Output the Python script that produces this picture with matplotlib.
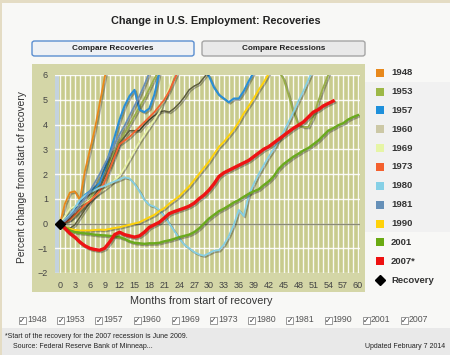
import matplotlib
matplotlib.use('Agg')
import matplotlib.pyplot as plt
from matplotlib.patches import Rectangle, FancyBboxPatch
from matplotlib.lines import Line2D
import matplotlib.patheffects as pe

plt.rcParams['font.family'] = ['Liberation Sans', 'DejaVu Sans']

# ---------------- data ----------------
years = ['1948', '1953', '1957', '1960', '1969', '1973', '1980', '1981', '1990', '2001', '2007*']
legend_colors = ['#E8891C', '#9DB847', '#1E90DB', '#CCC8A6', '#E6F5A6', '#F4602E',
                 '#86D0E6', '#6690B8', '#FFD20A', '#6AAA12', '#EE1111']
line_colors = ['#E8891C', '#98AE48', '#2A8FD6', '#5C5C3E', '#E9F3A8', '#F26230',
               '#86CFE3', '#6A8FB5', '#FFD20A', '#6AAA1E', '#EE1414']

m_1948 = [0, 1, 2, 3, 4, 5, 6, 7, 8, 9, 10]
v_1948 = [0, 0.8, 1.25, 1.3, 0.95, 2.1, 2.95, 3.8, 4.85, 5.9, 6.8]

m_1953 = [0, 1, 2, 3, 4, 5, 6, 7, 8, 9, 10, 11, 12, 13, 14, 15, 16, 17, 18, 19, 20, 24, 30, 36,
          40, 42, 44, 45, 46, 47, 48, 49, 50, 51, 52, 53, 54, 55]
v_1953 = [0, 0.1, 0.15, 0.3, 0.5, 0.75, 1.0, 1.35, 1.7, 2.1, 2.5, 2.9, 3.3, 3.65, 4.0, 4.35, 4.7,
          5.05, 5.45, 5.85, 6.2, 7.0, 7.5, 7.8, 7.4, 6.8, 6.15, 5.85, 5.2, 4.5, 4.0, 3.9, 3.9,
          4.3, 4.95, 5.5, 6.0, 6.5]

m_1957 = [0, 1, 2, 3, 4, 5, 6, 7, 8, 9, 10, 11, 12, 13, 14, 15, 16, 17, 18, 19, 20, 22, 24, 26,
          28, 29, 30, 31, 32, 33, 34, 35, 36, 37, 38, 39, 40]
v_1957 = [0, 0.15, 0.35, 0.6, 0.9, 1.15, 1.3, 1.45, 1.65, 2.2, 2.85, 3.5, 4.2, 4.75, 5.15, 5.4,
          4.6, 4.5, 4.65, 5.2, 6.1, 6.6, 6.9, 6.7, 6.4, 6.2, 5.95, 5.5, 5.2, 5.05, 4.9, 5.05,
          5.05, 5.35, 5.75, 6.1, 6.5]

m_1960 = list(range(0, 32))
v_1960 = [0, -0.15, -0.2, -0.05, 0.25, 0.55, 0.85, 1.15, 1.45, 1.85, 2.3, 2.8, 3.25, 3.5, 3.75,
          3.75, 3.75, 4.0, 4.2, 4.35, 4.5, 4.55, 4.5, 4.65, 4.85, 5.1, 5.4, 5.55, 5.65, 5.9,
          6.15, 6.4]

m_1969 = list(range(0, 25))
v_1969 = [0, 0.3, 0.6, 0.7, 0.75, 0.85, 0.95, 1.1, 1.25, 1.4, 1.55, 1.75, 1.95, 2.25, 2.6, 2.95,
          3.3, 3.6, 3.9, 4.2, 4.5, 5.0, 5.5, 6.1, 6.6]

m_1973 = list(range(0, 25))
v_1973 = [0, 0.05, 0.15, 0.35, 0.55, 0.75, 0.9, 1.1, 1.3, 1.7, 2.2, 2.7, 3.2, 3.35, 3.5, 3.7,
          3.9, 4.1, 4.3, 4.5, 4.75, 5.0, 5.35, 5.8, 6.25]

m_1980 = list(range(0, 52))
v_1980 = [0, 0.15, 0.35, 0.65, 0.95, 1.12, 1.25, 1.35, 1.45, 1.52, 1.62, 1.7, 1.78, 1.87, 1.82,
          1.6, 1.3, 0.95, 0.75, 0.68, 0.55, 0.3, 0.0, -0.3, -0.6, -0.85, -1.0, -1.15, -1.25,
          -1.3, -1.2, -1.1, -1.08, -0.85, -0.5, -0.05, 0.55, 0.3, 1.15, 1.6, 2.0, 2.35, 2.7,
          3.0, 3.35, 3.7, 4.1, 4.5, 4.95, 5.35, 5.8, 6.25]

m_1981 = list(range(0, 20))
v_1981 = [0, 0.1, 0.3, 0.5, 0.75, 1.0, 1.3, 1.65, 2.0, 2.4, 2.8, 3.2, 3.6, 3.95, 4.35, 4.75,
          5.15, 5.6, 6.1, 6.5]

m_1990 = list(range(0, 44))
v_1990 = [0, -0.15, -0.22, -0.26, -0.28, -0.28, -0.28, -0.26, -0.25, -0.26, -0.22, -0.18, -0.15,
          -0.1, -0.05, 0.0, 0.05, 0.15, 0.25, 0.35, 0.5, 0.62, 0.8, 0.95, 1.1, 1.3, 1.5, 1.75,
          2.0, 2.25, 2.5, 2.8, 3.1, 3.3, 3.55, 3.8, 4.1, 4.45, 4.75, 5.05, 5.4, 5.7, 6.05, 6.4]

m_2001 = list(range(0, 61))
v_2001 = [0, -0.15, -0.28, -0.35, -0.38, -0.4, -0.42, -0.45, -0.47, -0.48, -0.5, -0.52, -0.55,
          -0.62, -0.72, -0.78, -0.8, -0.82, -0.8, -0.8, -0.78, -0.72, -0.68, -0.62, -0.55, -0.5,
          -0.45, -0.35, -0.2, 0.0, 0.2, 0.35, 0.5, 0.6, 0.72, 0.85, 0.95, 1.08, 1.2, 1.3, 1.38,
          1.55, 1.7, 1.9, 2.2, 2.4, 2.55, 2.7, 2.82, 2.95, 3.05, 3.2, 3.35, 3.55, 3.75, 3.85,
          3.97, 4.05, 4.2, 4.3, 4.38]

m_2007 = list(range(0, 56))
v_2007 = [0, -0.2, -0.4, -0.55, -0.75, -0.9, -1.0, -1.05, -1.08, -1.0, -0.75, -0.45, -0.35,
          -0.45, -0.5, -0.55, -0.5, -0.35, -0.15, -0.05, 0.05, 0.22, 0.4, 0.48, 0.55, 0.62, 0.7,
          0.82, 1.0, 1.15, 1.35, 1.6, 1.9, 2.05, 2.15, 2.25, 2.35, 2.45, 2.55, 2.7, 2.85, 3.0,
          3.1, 3.25, 3.4, 3.55, 3.7, 3.85, 3.97, 4.1, 4.3, 4.5, 4.6, 4.75, 4.85, 4.95]

series_m = [m_1948, m_1953, m_1957, m_1960, m_1969, m_1973, m_1980, m_1981, m_1990, m_2001, m_2007]
series_v = [v_1948, v_1953, v_1957, v_1960, v_1969, v_1973, v_1980, v_1981, v_1990, v_2001, v_2007]
line_widths = [1.3, 1.3, 1.5, 1.1, 1.1, 1.3, 1.3, 1.3, 1.4, 1.7, 2.4]

x_ticks = list(range(0, 61, 3))
y_ticks = list(range(-2, 7))

title = 'Change in U.S. Employment: Recoveries'
x_label = 'Months from start of recovery'
y_label = 'Percent change from start of recovery'
check_labels = ['1948', '1953', '1957', '1960', '1969', '1973', '1980', '1981', '1990', '2001', '2007']

# ---------------- figure ----------------
W, H = 450, 355
fig = plt.figure(figsize=(W / 100, H / 100), dpi=100, facecolor='#F8F8F6')


def fx(x):
    return x / W


def fy(y):
    return 1 - y / H


def rect(x0, y0, x1, y1, zorder=-1, **kw):
    r = Rectangle((fx(x0), fy(y1)), (x1 - x0) / W, (y1 - y0) / H, transform=fig.transFigure,
                  zorder=zorder, **kw)
    fig.add_artist(r)
    return r


# page decorations
rect(0, 0, W, 3, color='#E4DCC4', lw=0)
rect(0, 0, 2, H, color='#E4DCC4', lw=0)
rect(365, 82, W, 232, color='#F1F1F1', lw=0)
rect(2, 328, W, H, color='#E9E9E9', lw=0)

fig.text(fx(216), fy(21), title, ha='center', va='center', fontsize=7.8,
         fontweight='bold', color='#222222')

# buttons
for (x0, x1, label, ec, fc) in [(32, 194, 'Compare Recoveries', '#5A8ED0', '#EEF1F5'),
                                (202, 365, 'Compare Recessions', '#A5A5A5', '#E9E9E9')]:
    b = FancyBboxPatch((fx(x0), fy(56)), (x1 - x0) / W, 15 / H,
                       boxstyle='round,pad=0,rounding_size=0.006', transform=fig.transFigure,
                       fc=fc, ec=ec, lw=1.0, zorder=-1)
    fig.add_artist(b)
    fig.text(fx((x0 + x1) / 2), fy(48.5), label, ha='center', va='center', fontsize=5.9,
             fontweight='bold', color='#222222')

# olive panel
rect(32, 64, 365, 292, color='#D4D6A7', lw=0)

# axes
ax = fig.add_axes([fx(55), fy(273), (360 - 55) / W, (273 - 75) / H])
ax.set_zorder(1)
ax.set_facecolor('#C8CB8E')
ax.set_xlim(-1, 60.4)
ax.set_ylim(-2, 6)
for s in ax.spines.values():
    s.set_visible(False)
ax.axvspan(-1, -0.15, color='#C3D2DE', lw=0, zorder=0.5)
for m in range(0, 61):
    ax.axvline(m, color='white', lw=1.0, alpha=0.9, zorder=1)
for yv in y_ticks:
    ax.axhline(yv, color='white', lw=1.0, alpha=0.9, zorder=1)
ax.axhline(0, color='#8A8A76', lw=1.0, zorder=1.5)

ax.set_xticks(x_ticks)
ax.set_yticks(y_ticks)
ax.tick_params(length=0, labelsize=6.5, colors='#444444')
ax.tick_params(axis='x', pad=6)
ax.tick_params(axis='y', pad=5)

shadow = [pe.SimpleLineShadow(offset=(1.0, -1.0), shadow_color='black', alpha=0.3), pe.Normal()]
for i, (mm, vv) in enumerate(zip(series_m, series_v)):
    ax.plot(mm, vv, color=line_colors[i], lw=line_widths[i], zorder=3 + i * 0.1,
            path_effects=shadow, solid_joinstyle='round')

ax.plot([0], [0], marker='D', ms=5, color='black', zorder=5)

fig.text(fx(22), fy(177), y_label, rotation=90, ha='center', va='center', fontsize=7.4,
         color='#333333')
fig.text(fx(201), fy(301), x_label, ha='center', va='center', fontsize=7.8, color='#333333')

# legend
for i, (lab, col) in enumerate(zip(years, legend_colors)):
    yc = 72.7 + 18.85 * i
    rect(376, yc - 4, 384, yc + 4, zorder=2, color=col, lw=0)
    fig.text(fx(391), fy(yc), lab, ha='left', va='center', fontsize=6.8,
             fontweight='bold', color='#333333')
yc = 72.7 + 18.85 * 11
fig.add_artist(Line2D([fx(380)], [fy(yc)], marker='D', ms=5, color='black',
                      transform=fig.transFigure))
fig.text(fx(391), fy(yc), 'Recovery', ha='left', va='center', fontsize=6.8,
         fontweight='bold', color='#333333')

# checkboxes
for i, lab in enumerate(check_labels):
    xc = 22.5 + 38.2 * i
    rect(xc - 3.5, 316.5, xc + 3.5, 323.5, zorder=2, fc='white', ec='#8A8A8A', lw=0.6)
    fig.text(fx(xc), fy(320), '\u2713', ha='center', va='center', fontsize=5.5,
             color='#333333', family='DejaVu Sans', zorder=3)
    fig.text(fx(xc + 4.5), fy(320), lab, ha='left', va='center', fontsize=6.3, color='#555555')

fig.text(fx(5), fy(336), '*Start of the recovery for the 2007 recession is June 2009.',
         ha='left', va='center', fontsize=5.0, color='#222222')
fig.text(fx(13), fy(347), 'Source: Federal Reserve Bank of Minneap...',
         ha='left', va='center', fontsize=5.0, color='#222222')
fig.text(fx(445), fy(347), 'Updated February 7 2014',
         ha='right', va='center', fontsize=5.0, color='#222222')

fig.savefig('out.png', dpi=100, facecolor=fig.get_facecolor())
